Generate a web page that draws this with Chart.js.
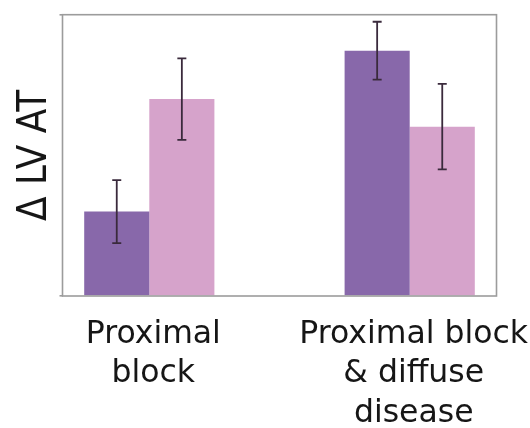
<!DOCTYPE html>
<html><head><meta charset="utf-8">
<script src="https://cdn.jsdelivr.net/npm/chart.js@4.4.1/dist/chart.umd.min.js"></script>
<style>html,body{margin:0;padding:0;background:#fff}#wrap{width:530px;height:428px}</style>
</head><body><div id="wrap"><canvas id="c" width="530" height="428"></canvas></div>
<script>
// ---- data ----
const categories = [["Proximal", "block"], ["Proximal block", "& diffuse", "disease"]];
const seriesNames = ["Series 1", "Series 2"];
const darkValues = [30.0, 87.2];
const darkErrors = [11.2, 10.3];
const lightValues = [70.0, 60.2];
const lightErrors = [14.5, 15.2];
const yTicks = [0, 100];
const yTitle = "Δ LV AT";

const errorsByDataset = [darkErrors, lightErrors];

const frame = {
  id: 'frame',
  afterDatasetsDraw(chart) {
    const a = chart.chartArea, ctx = chart.ctx;
    ctx.save();
    ctx.strokeStyle = '#9c9c9c';
    ctx.lineWidth = 1.6;
    ctx.strokeRect(a.left, a.top, a.right - a.left, a.bottom - a.top);
    ctx.restore();
  }
};

const errorBars = {
  id: 'errorBars',
  afterDatasetsDraw(chart) {
    const ctx = chart.ctx, ys = chart.scales.y;
    ctx.save();
    ctx.strokeStyle = '#3a2a3c';
    ctx.lineWidth = 1.8;
    chart.data.datasets.forEach((ds, di) => {
      const meta = chart.getDatasetMeta(di);
      meta.data.forEach((bar, i) => {
        const v = ds.data[i].y, e = errorsByDataset[di][i];
        const x = bar.x;
        const yHi = ys.getPixelForValue(v + e), yLo = ys.getPixelForValue(v - e);
        ctx.beginPath();
        ctx.moveTo(x, yHi); ctx.lineTo(x, yLo);
        ctx.moveTo(x - 4.5, yHi); ctx.lineTo(x + 4.5, yHi);
        ctx.moveTo(x - 4.5, yLo); ctx.lineTo(x + 4.5, yLo);
        ctx.stroke();
      });
    });
    ctx.restore();
  }
};

new Chart(document.getElementById('c'), {
  type: 'bar',
  data: {
    datasets: [
      { label: seriesNames[0], data: darkValues.map((v, i) => ({ x: i, y: v })), backgroundColor: '#8868aa', borderWidth: 0 },
      { label: seriesNames[1], data: lightValues.map((v, i) => ({ x: i, y: v })), backgroundColor: '#d6a3cb', borderWidth: 0 }
    ]
  },
  options: {
    responsive: false,
    animation: false,
    layout: { padding: { left: 0, right: 33.5, top: 14.7, bottom: 0 } },
    datasets: { bar: { categoryPercentage: 0.5, barPercentage: 1.0 } },
    plugins: { legend: { display: false }, tooltip: { enabled: false } },
    scales: {
      x: {
        type: 'linear',
        offset: false,
        min: -1 / 3,
        max: 4 / 3,
        afterBuildTicks(scale) { scale.ticks = categories.map((c, i) => ({ value: i })); },
        afterFit(scale) { scale.height = 132; scale.paddingLeft = 0; scale.paddingRight = 0; },
        grid: { display: false, drawTicks: false, offset: false },
        border: { display: false },
        ticks: {
          autoSkip: false,
          maxRotation: 0,
          padding: 19,
          labelOffset: 4,
          color: '#161616',
          font: { family: "'DejaVu Sans', sans-serif", size: 31.5, lineHeight: 1.254 },
          callback: (v, idx) => categories[idx]
        }
      },
      y: {
        min: yTicks[0],
        max: yTicks[yTicks.length - 1],
        afterBuildTicks(scale) { scale.ticks = yTicks.map(v => ({ value: v })); },
        afterFit(scale) { scale.width = 62.5; },
        grid: { drawOnChartArea: false, drawTicks: true, tickLength: 3, color: '#9c9c9c', lineWidth: 1.6 },
        border: { display: false },
        ticks: { display: false },
        title: {
          display: true,
          text: yTitle,
          color: '#161616',
          padding: { top: 16, bottom: 0 },
          font: { family: "'Liberation Sans Narrow', 'DejaVu Sans Condensed', sans-serif", size: 40, lineHeight: 1 }
        }
      }
    }
  },
  plugins: [frame, errorBars]
});
</script>
</body></html>
